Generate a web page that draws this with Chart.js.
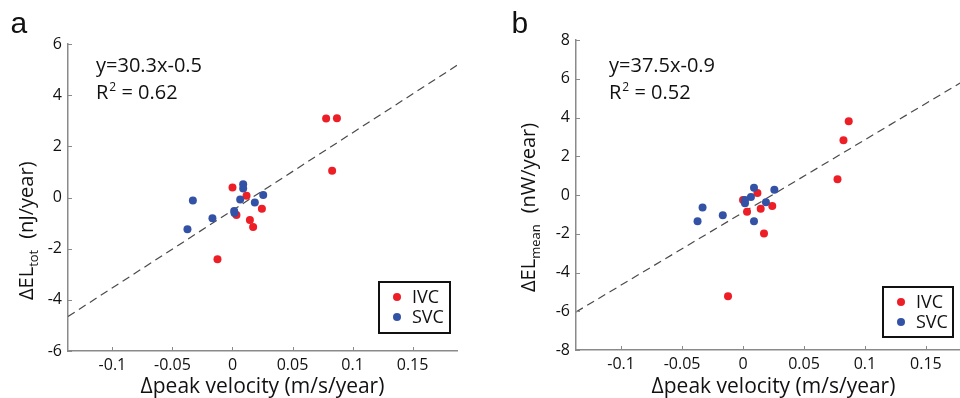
<!DOCTYPE html>
<html>
<head>
<meta charset="utf-8">
<script src="https://cdn.jsdelivr.net/npm/chart.js@4.4.1/dist/chart.umd.min.js"></script>
<style>
  html, body { margin: 0; padding: 0; background: #fff; overflow: hidden; }
  body { width: 960px; height: 398px; position: relative; }
  .panel { position: absolute; top: 0; height: 398px; }
  #panelA { left: 0; width: 480px; }
  #panelB { left: 480px; width: 500px; }
</style>
</head>
<body>
<div class="panel" id="panelA"><canvas id="chartA"></canvas></div>
<div class="panel" id="panelB"><canvas id="chartB"></canvas></div>
<script>
// axis ticks
const xTickValues = [-0.1, -0.05, 0, 0.05, 0.1, 0.15]
const xRange = [-0.137, 0.187]
const yTickValuesA = [-6, -4, -2, 0, 2, 4, 6]
const yTickValuesB = [-8, -6, -4, -2, 0, 2, 4, 6, 8]
const legendLabels = ["IVC", "SVC"]

// panel a: dEL_tot vs dpeak velocity
const ivcA_x = [0.078, 0.087, 0.083, 0.0, 0.0117, 0.0033, 0.0145, 0.0172, 0.0245, -0.0125]
const ivcA_y = [3.09, 3.10, 1.05, 0.39, 0.07, -0.68, -0.88, -1.15, -0.44, -2.41]
const svcA_x = [-0.033, -0.0375, -0.0167, 0.0089, 0.0089, 0.0064, 0.0014, 0.0017, 0.0186, 0.0256]
const svcA_y = [-0.12, -1.24, -0.81, 0.52, 0.35, -0.08, -0.53, -0.61, -0.20, 0.10]
const fitA = [30.3, -0.5] // slope, intercept

// panel b: dEL_mean vs dpeak velocity
const ivcB_x = [0.0867, 0.0824, 0.0775, 0.0, 0.0118, 0.0033, 0.0145, 0.024, 0.0172, -0.0123]
const ivcB_y = [3.81, 2.82, 0.81, -0.26, 0.10, -0.86, -0.71, -0.57, -1.99, -5.22]
const svcB_x = [-0.0373, -0.0332, -0.0166, 0.009, 0.0065, 0.0016, 0.0016, 0.009, 0.0188, 0.0257]
const svcB_y = [-1.36, -0.65, -1.05, 0.38, -0.10, -0.26, -0.43, -1.36, -0.38, 0.27]
const fitB = [37.5, -0.9]

const RED = "rgb(237, 30, 38)"
const BLUE = "rgb(52, 82, 165)"
const AXIS = "#8a8a8a"
const FONT = '"Open Sans", sans-serif'

function pts(xs, ys) {
  return xs.map((x, i) => ({ x: x, y: ys[i] }))
}

// short tick marks pointing into the plot
const inwardTicks = {
  id: "inwardTicks",
  afterDatasetsDraw(chart) {
    const { ctx, scales } = chart
    const x = scales.x, y = scales.y
    ctx.save()
    ctx.strokeStyle = AXIS
    ctx.lineWidth = 1
    ctx.beginPath()
    x.ticks.forEach(t => {
      const px = Math.round(x.getPixelForValue(t.value)) + 0.5
      ctx.moveTo(px, y.bottom)
      ctx.lineTo(px, y.bottom - 4)
    })
    y.ticks.forEach(t => {
      const py = Math.round(y.getPixelForValue(t.value)) + 0.5
      ctx.moveTo(x.left, py)
      ctx.lineTo(x.left + 4, py)
    })
    ctx.stroke()
    ctx.restore()
  },
}

// letter, equation, y title with subscript, boxed legend
const panelText = {
  id: "panelText",
  afterDraw(chart, args, o) {
    const ctx = chart.ctx
    ctx.save()
    ctx.fillStyle = "#111"
    ctx.textAlign = "left"
    ctx.textBaseline = "alphabetic"

    ctx.font = '30px "Liberation Sans", sans-serif'
    ctx.fillText(o.letter, o.letterX, o.letterY)

    ctx.font = "20px " + FONT
    ctx.fillText(o.equation, o.eqX, o.eqY)
    ctx.fillText("R", o.eqX, o.eqY + 27)
    const wr = ctx.measureText("R").width
    ctx.font = "12px " + FONT
    ctx.fillText("2", o.eqX + wr + 1, o.eqY + 27 - 8)
    const w2 = ctx.measureText("2").width
    ctx.font = "20px " + FONT
    ctx.fillText(" = " + o.r2, o.eqX + wr + w2 + 1, o.eqY + 27)

    // rotated y title
    ctx.save()
    ctx.translate(o.ytX, o.ytY)
    ctx.rotate(-Math.PI / 2)
    ctx.font = "20px " + FONT
    ctx.fillText("\u0394EL", 0, 0)
    let off = ctx.measureText("\u0394EL").width
    ctx.font = "13px " + FONT
    ctx.fillText(o.ySub, off, 5)
    off += ctx.measureText(o.ySub).width + 11
    ctx.font = "20px " + FONT
    ctx.fillText(o.yUnit, off, 0)
    ctx.restore()

    // legend box
    const L = o.legend
    ctx.fillStyle = "#fff"
    ctx.fillRect(L.x, L.y, L.w, L.h)
    ctx.strokeStyle = "#111"
    ctx.lineWidth = 2
    ctx.strokeRect(L.x, L.y, L.w, L.h)
    ctx.font = "18px " + FONT
    ctx.textBaseline = "middle"
    legendLabels.forEach((lab, i) => {
      const d = chart.data.datasets.find(ds => ds.label === lab)
      const cy = L.y + 15 + i * 20
      ctx.fillStyle = d.backgroundColor
      ctx.beginPath()
      ctx.arc(L.x + 18, cy, 4, 0, Math.PI * 2)
      ctx.fill()
      ctx.fillStyle = "#111"
      ctx.fillText(lab, L.x + 33, cy + 1)
    })
    ctx.restore()
  },
}

function makeChart(id, ivc, svc, fit, yTicks, geom, text) {
  const fitLine = xRange.map(x => ({ x: x, y: fit[0] * x + fit[1] }))
  return new Chart(document.getElementById(id), {
    type: "scatter",
    data: {
      datasets: [
        { label: "SVC", data: svc, backgroundColor: BLUE, borderWidth: 0, pointRadius: 4 },
        { label: "IVC", data: ivc, backgroundColor: RED, borderWidth: 0, pointRadius: 4 },
        {
          label: "fit",
          type: "line",
          data: fitLine,
          borderColor: "#4a4a4a",
          borderWidth: 1.2,
          borderDash: [8, 5],
          pointRadius: 0,
          fill: false,
        },
      ],
    },
    options: {
      responsive: true,
      maintainAspectRatio: false,
      animation: false,
      events: [],
      layout: { padding: { left: 0, top: geom.top, right: geom.right, bottom: 0 } },
      plugins: { legend: { display: false }, tooltip: { enabled: false }, panelText: text },
      scales: {
        x: {
          type: "linear",
          min: xRange[0],
          max: xRange[1],
          afterBuildTicks: s => { s.ticks = xTickValues.map(v => ({ value: v })) },
          afterFit: s => { s.height = geom.xh },
          grid: { display: true, drawOnChartArea: false, drawTicks: false },
          border: { display: true, color: AXIS, width: 1.5 },
          ticks: { color: "#111", padding: 5, font: { family: FONT, size: 16 }, callback: v => String(v) },
          title: {
            display: true,
            text: "\u0394peak velocity (m/s/year)",
            color: "#111",
            font: { family: FONT, size: 21, lineHeight: 1.0 },
            padding: { top: 0, bottom: 0 },
          },
        },
        y: {
          type: "linear",
          min: yTicks[0],
          max: yTicks[yTicks.length - 1],
          afterBuildTicks: s => { s.ticks = yTicks.map(v => ({ value: v })) },
          afterFit: s => { s.width = geom.yw },
          grid: { display: true, drawOnChartArea: false, drawTicks: false },
          border: { display: true, color: AXIS, width: 1.5 },
          ticks: { color: "#111", padding: 6, font: { family: FONT, size: 16 }, callback: v => String(v) },
        },
      },
    },
    plugins: [inwardTicks, panelText],
  })
}

const chartA = makeChart(
  "chartA",
  pts(ivcA_x, ivcA_y),
  pts(svcA_x, svcA_y),
  fitA,
  yTickValuesA,
  { top: 44, right: 23, xh: 47, yw: 68 },
  {
    letter: "a", letterX: 10.5, letterY: 33,
    equation: "y=30.3x-0.5", r2: "0.62", eqX: 96, eqY: 72,
    ySub: "tot", yUnit: "(nJ/year)", ytX: 33, ytY: 300,
    legend: { x: 379, y: 282, w: 71, h: 51 },
  }
)

const chartB = makeChart(
  "chartB",
  pts(ivcB_x, ivcB_y),
  pts(svcB_x, svcB_y),
  fitB,
  yTickValuesB,
  { top: 40, right: 9, xh: 48, yw: 96 },
  {
    letter: "b", letterX: 31.5, letterY: 33,
    equation: "y=37.5x-0.9", r2: "0.52", eqX: 129, eqY: 72,
    ySub: "mean", yUnit: "(nW/year)", ytX: 55, ytY: 292,
    legend: { x: 403, y: 287, w: 70, h: 50 },
  }
)
</script>
</body>
</html>
